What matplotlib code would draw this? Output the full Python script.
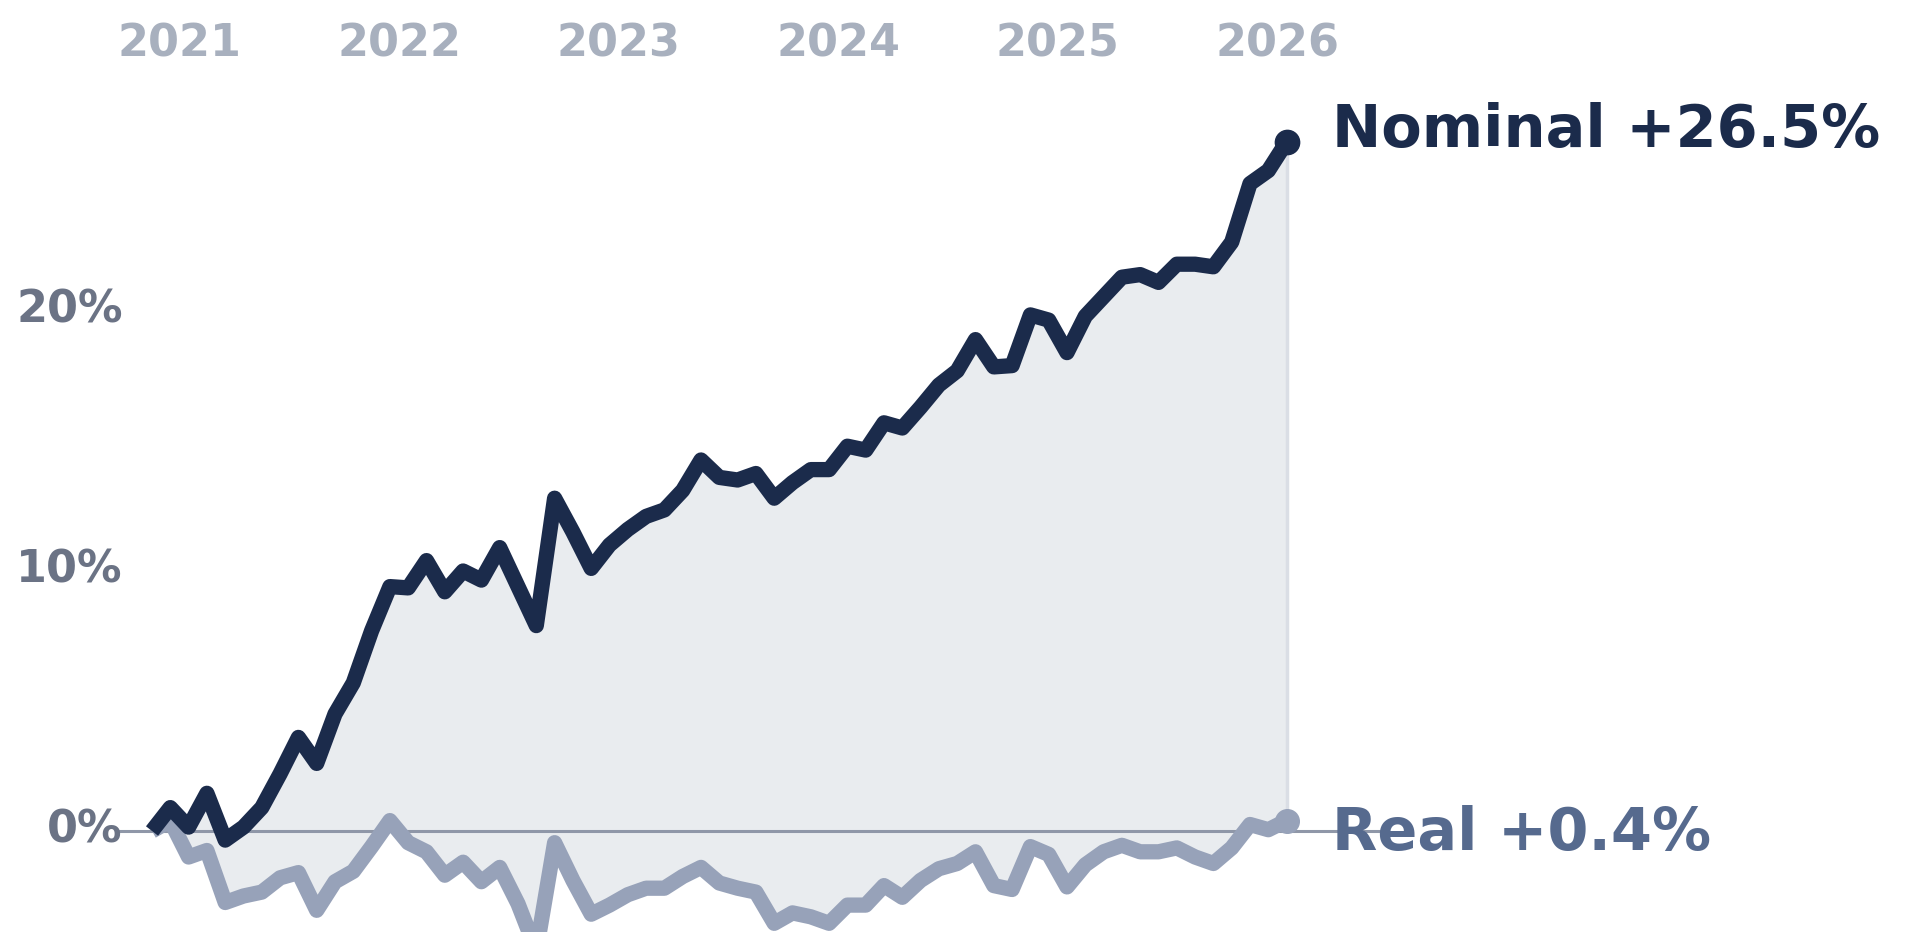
import matplotlib
matplotlib.use("Agg")
import matplotlib.pyplot as plt
import numpy as np

# ---- data (cumulative % change, monthly) ----
nominal = [0.0, 0.9, 0.15, 1.45, -0.35, 0.15, 0.9, 2.2, 3.6, 2.6,
           4.5, 5.7, 7.7, 9.4, 9.35, 10.4, 9.2, 10.0, 9.65, 10.9,
           9.4, 7.9, 12.8, 11.5, 10.1, 11.0, 11.6, 12.1, 12.35, 13.1,
           14.27, 13.6, 13.5, 13.75, 12.8, 13.4, 13.9, 13.9, 14.8, 14.65,
           15.7, 15.5, 16.3, 17.15, 17.7, 18.9, 17.85, 17.9, 19.85, 19.65,
           18.4, 19.8, 20.55, 21.3, 21.4, 21.1, 21.8, 21.8, 21.7, 22.65,
           24.9, 25.4, 26.5]
real = [0.0, 0.4, -1.0, -0.75, -2.75, -2.5, -2.35, -1.8, -1.6, -3.05,
        -1.95, -1.55, -0.6, 0.4, -0.45, -0.8, -1.7, -1.2, -1.95, -1.4,
        -2.8, -4.6, -0.45, -1.9, -3.2, -2.85, -2.45, -2.2, -2.2, -1.75,
        -1.4, -2.0, -2.2, -2.35, -3.55, -3.15, -3.3, -3.55, -2.85, -2.85,
        -2.1, -2.55, -1.9, -1.45, -1.25, -0.8, -2.1, -2.25, -0.6, -0.9,
        -2.15, -1.3, -0.8, -0.55, -0.8, -0.8, -0.65, -1.0, -1.25, -0.65,
        0.25, 0.05, 0.4]
years = ["2021", "2022", "2023", "2024", "2025", "2026"]
y_ticks = [0, 10, 20]
nominal_label = "Nominal +26.5%"
real_label = "Real +0.4%"

NAVY = "#1b2b4b"
REAL_C = "#97a2b9"
REAL_TXT = "#566a8e"
FILL = "#e9ecef"

W, H = 1908, 932
fig = plt.figure(figsize=(W / 100, H / 100), dpi=100)
ax = fig.add_axes([0, 0, 1, 1])
ax.set_axis_off()

x = np.arange(len(nominal))
# pixel mapping: x_px = 152 + 18.3*i ; y_px = 831 - 26*v
ax.set_xlim(-152 / 18.3, (W - 152) / 18.3)
ax.set_ylim(-(H - 831) / 26.0, 831 / 26.0)

ax.fill_between(x, real, nominal, color=FILL, lw=0, zorder=1)
ax.vlines(x[-1], real[-1], nominal[-1], color="#dadee5", lw=2.5, zorder=1.5)
ax.hlines(0, -1.85, 67.6, color="#8f97a8", lw=2.2, zorder=2)

ax.plot(x, real, color=REAL_C, lw=11, solid_joinstyle="round",
        solid_capstyle="butt", zorder=3)
ax.plot(x, nominal, color=NAVY, lw=11, solid_joinstyle="round",
        solid_capstyle="butt", zorder=4)
ax.plot(x[-1], real[-1], "o", color=REAL_C, ms=17, zorder=5)
ax.plot(x[-1], nominal[-1], "o", color=NAVY, ms=17.5, zorder=5)

# end labels
ax.text(64.5, nominal[-1] - 0.2, nominal_label, color=NAVY, fontsize=42.5,
        fontweight="bold", ha="left", va="baseline", zorder=6)
ax.text(64.5, real[-1] - 1.13, real_label, color=REAL_TXT, fontsize=42.5,
        fontweight="bold", ha="left", va="baseline", zorder=6)

# y tick labels
for t in y_ticks:
    ax.text(-1.6, t - 0.45, f"{t}%", color="#6b7385", fontsize=32,
            fontweight="bold", ha="right", va="baseline", zorder=6)

# year labels on top
for k, yr in enumerate(years):
    ax.text(1.5 + 12 * k, 29.8, yr, color="#a8b0be", fontsize=32,
            fontweight="bold", ha="center", va="baseline", zorder=6)

fig.savefig("out.png", dpi=100, facecolor="white")
